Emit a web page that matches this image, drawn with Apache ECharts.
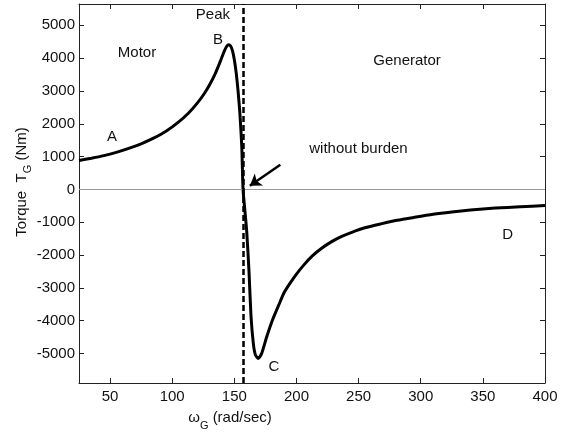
<!DOCTYPE html>
<html>
<head>
<meta charset="utf-8">
<script src="https://cdn.jsdelivr.net/npm/echarts@6/dist/echarts.min.js"></script>
<style>
html,body{margin:0;padding:0;background:#fff;}
#chart{width:569px;height:432px;}
</style>
</head>
<body>
<div id="chart"></div>
<script>
// Motor region (speed rad/s, torque Nm)
var motorSpeed  = [25, 35, 45, 55, 65, 75, 85, 95, 105, 113, 120, 126, 131, 135, 139, 142, 144, 145.5, 147, 148.5, 150, 151.5, 153, 154.5, 156, 157];
var motorTorque = [880, 950, 1030, 1130, 1250, 1390, 1560, 1770, 2050, 2320, 2620, 2930, 3250, 3560, 3930, 4220, 4370, 4410, 4370, 4230, 3950, 3550, 3000, 2300, 1300, 0];
// Generator region
var genSpeed  = [158.5, 160, 161.8, 163.4, 165.3, 167, 169.3, 172, 176, 181, 186, 190, 195, 200, 206, 213, 220, 228, 236, 245, 255, 268, 281, 295, 310, 325, 340, 360, 380, 400];
var genTorque = [-650, -1300, -2500, -3850, -4700, -5050, -5150, -5000, -4500, -3950, -3500, -3150, -2850, -2580, -2300, -2020, -1800, -1600, -1440, -1300, -1170, -1050, -940, -850, -760, -690, -630, -570, -530, -494];
var syncSpeed = 157;
var xTicks = [50, 100, 150, 200, 250, 300, 350, 400];
var yTicks = [-5000, -4000, -3000, -2000, -1000, 0, 1000, 2000, 3000, 4000, 5000];
var annotTexts  = ['Peak', 'B', 'Motor', 'A', 'Generator', 'without burden', 'C', 'D'];
var annotSpeed  = [132.8, 136.9, 71.7, 51.6, 289, 249.9, 181.9, 370];
var annotTorque = [5330, 4565, 4168, 1603, 3924, 1237, -5411, -1389];
var arrowFrom = [187, 750];
var arrowTo = [162.5, 110];

var curve = [];
for (var i = 0; i < motorSpeed.length; i++) curve.push([motorSpeed[i], motorTorque[i]]);
for (var j = 0; j < genSpeed.length; j++) curve.push([genSpeed[j], genTorque[j]]);
var annots = annotTexts.map(function (t, k) {
  return { name: t, coord: [annotSpeed[k], annotTorque[k]] };
});

var FONT = 'Liberation Sans, Arial, sans-serif';
var chart = echarts.init(document.getElementById('chart'), null, { renderer: 'canvas' });
function plain(v) { return String(v); }

function xAx(pos, showLabel) {
  return {
    type: 'value', position: pos, min: 25, max: 400,
    axisLine: { show: true, onZero: false, lineStyle: { color: '#222', width: 1 } },
    axisTick: { show: true, inside: true, length: 5, customValues: xTicks, lineStyle: { color: '#222' } },
    axisLabel: { show: showLabel, customValues: xTicks, formatter: plain, color: '#111', fontFamily: FONT, fontSize: 15, margin: 6 },
    splitLine: { show: false }
  };
}
function yAx(pos, showLabel) {
  return {
    type: 'value', position: pos, min: -5900, max: 5650,
    axisLine: { show: true, onZero: false, lineStyle: { color: '#222', width: 1 } },
    axisTick: { show: true, inside: true, length: 5, customValues: yTicks, lineStyle: { color: '#222' } },
    axisLabel: { show: showLabel, customValues: yTicks, formatter: plain, color: '#111', fontFamily: FONT, fontSize: 15, margin: 4 },
    splitLine: { show: false }
  };
}

chart.setOption({
  animation: false,
  backgroundColor: '#fff',
  grid: { left: 79, right: 24, top: 4, bottom: 49, containLabel: false },
  xAxis: [xAx('bottom', true), xAx('top', false)],
  yAxis: [yAx('left', true), yAx('right', false)],
  graphic: [
    {
      type: 'text', x: 230, y: 418, z: 10,
      style: {
        text: '{m|ω}{sub|G}{m| (rad/sec)}', align: 'center', verticalAlign: 'middle',
        fill: '#111', font: '15px ' + FONT,
        rich: { m: { fontSize: 15, fontFamily: FONT, fill: '#111' }, sub: { fontSize: 11, fontFamily: FONT, fill: '#111', padding: [16, 0, 0, 0] } }
      }
    },
    {
      type: 'text', x: 22, y: 182, rotation: Math.PI / 2, z: 10,
      style: {
        text: '{m|Torque  T}{sub|G}{m| (Nm)}', align: 'center', verticalAlign: 'middle',
        fill: '#111', font: '15px ' + FONT,
        rich: { m: { fontSize: 15, fontFamily: FONT, fill: '#111' }, sub: { fontSize: 11, fontFamily: FONT, fill: '#111', padding: [12, 0, 0, 0] } }
      }
    }
  ],
  series: [
    {
      type: 'line', name: 'torque', data: curve, xAxisIndex: 0, yAxisIndex: 0,
      showSymbol: false, smooth: 0.2, clip: true,
      lineStyle: { color: '#000', width: 3 },
      markLine: {
        silent: true, symbol: 'none', animation: false,
        label: { show: false },
        data: [
          { yAxis: 0, lineStyle: { color: '#999', width: 1, type: 'solid' } },
          { xAxis: syncSpeed, lineStyle: { color: '#000', width: 2.5, type: [6, 3] } },
          [
            { coord: arrowFrom, symbol: 'none', lineStyle: { color: '#000', width: 2.5, type: 'solid' } },
            { coord: arrowTo, symbol: 'arrow', symbolSize: 11 }
          ]
        ]
      },
      markPoint: {
        silent: true, animation: false,
        symbol: 'circle', symbolSize: 0,
        itemStyle: { color: 'transparent' },
        label: { show: true, position: 'inside', formatter: '{b}', color: '#111', fontFamily: FONT, fontSize: 15 },
        data: annots
      }
    }
  ]
});
</script>
</body>
</html>
